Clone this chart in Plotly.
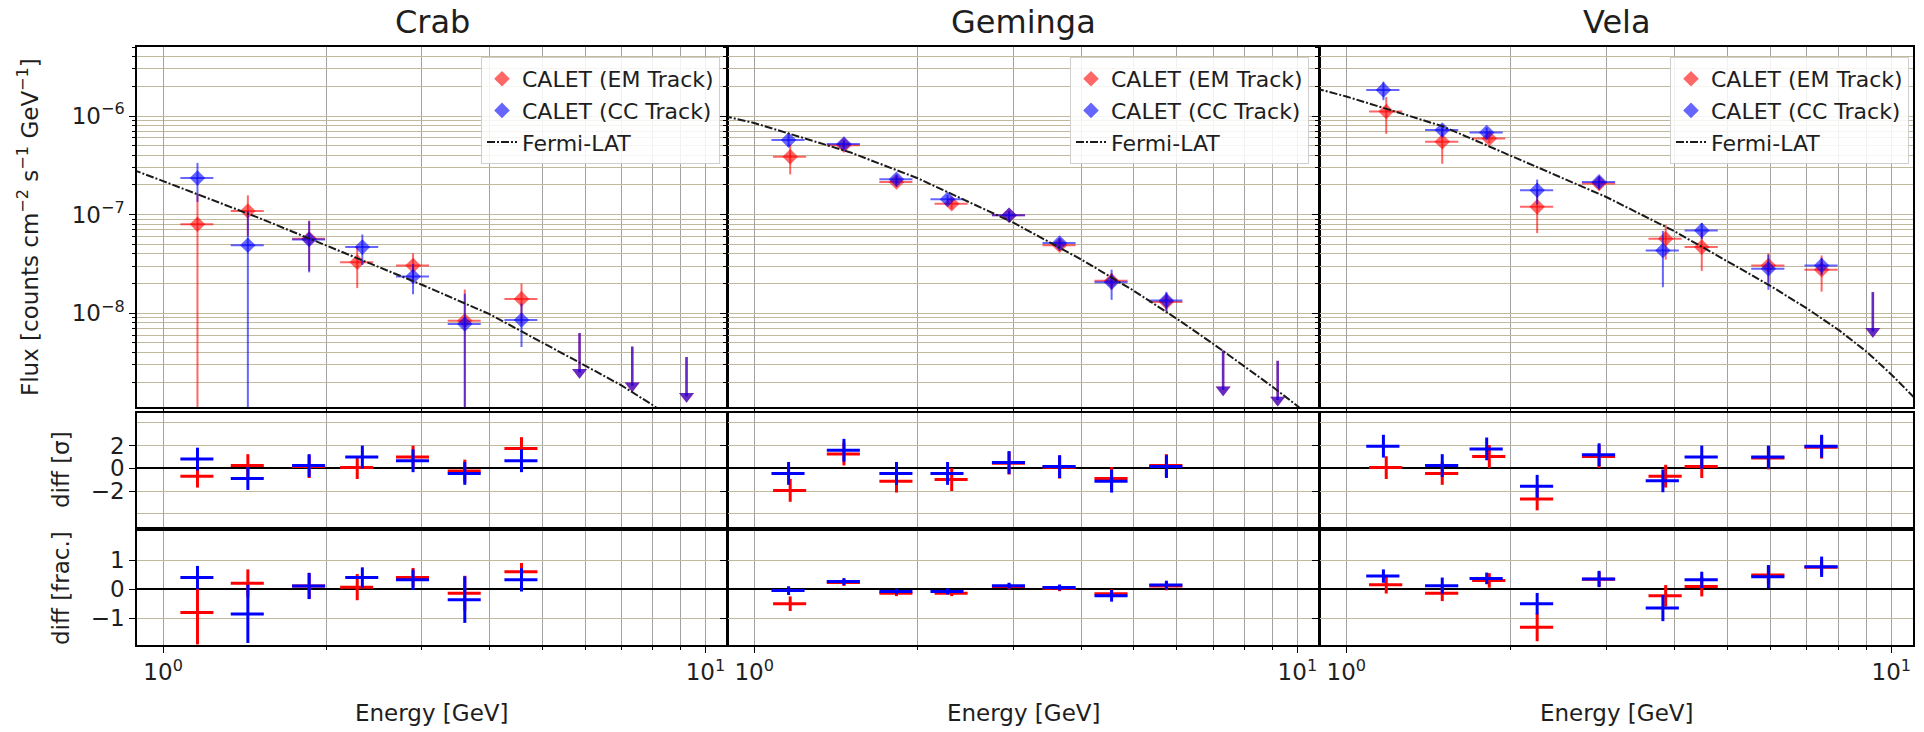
import math
import plotly.graph_objects as go

# ---------------- Crab ----------------
crab_e_em = [1.157, 1.433, 1.859, 2.28, 2.89, 3.60, 4.58]
crab_f_em = [8.0e-8, 1.09e-7, 5.7e-8, 3.3e-8, 3.05e-8, 8.4e-9, 1.40e-8]
crab_err_em = [8.5e-8, 4.8e-8, 3.0e-8, 1.5e-8, 1.0e-8, 9.0e-9, 6.0e-9]
crab_e_cc = [1.157, 1.433, 1.859, 2.33, 2.89, 3.60, 4.58]
crab_f_cc = [2.35e-7, 4.9e-8, 5.6e-8, 4.69e-8, 2.36e-8, 7.8e-9, 8.55e-9]
crab_err_cc = [1.0e-7, 6.0e-8, 3.0e-8, 1.6e-8, 8.0e-9, 8.0e-9, 4.0e-9]
crab_e_ul = [5.86, 7.33, 9.23]
crab_ul = [6.3e-9, 4.6e-9, 3.6e-9]
crab_sig_em = [-0.69, 0.24, 0.15, 0.06, 0.99, -0.24, 1.73]
crab_sig_cc = [0.81, -0.90, 0.24, 0.99, 0.66, -0.45, 0.66]
crab_frac_em = [-0.80, 0.20, 0.11, 0.07, 0.40, -0.14, 0.60]
crab_frac_err_em = [1.1, 0.48, 0.45, 0.45, 0.33, 0.6, 0.3]
crab_frac_cc = [0.40, -0.85, 0.11, 0.40, 0.32, -0.36, 0.32]
crab_frac_err_cc = [0.4, 1.0, 0.45, 0.35, 0.35, 0.8, 0.4]
crab_fermi = [2.85e-7, 2.19e-7, 9.3e-8, 4.9e-8, 1.95e-8, 9.8e-9, 5.1e-9,
              2.95e-9, 1.86e-9, 1.17e-9, 7.4e-10, 4.7e-10, 2.5e-10]

# ---------------- Geminga ----------------
gem_e_em = [1.165, 1.463, 1.828, 2.31, 2.946, 3.65, 4.55, 5.74]
gem_f_em = [3.86e-7, 5.07e-7, 2.15e-7, 1.29e-7, 9.85e-8, 4.9e-8, 2.14e-8, 1.30e-8]
gem_err_em = [1.3e-7, 5.0e-8, 2.5e-8, 1.5e-8, 1.0e-8, 6.0e-9, 4.0e-9, 3.0e-9]
gem_e_cc = [1.157, 1.463, 1.828, 2.27, 2.946, 3.65, 4.55, 5.74]
gem_f_cc = [5.7e-7, 5.2e-7, 2.29e-7, 1.43e-7, 9.85e-8, 5.15e-8, 2.07e-8, 1.35e-8]
gem_err_cc = [8.0e-8, 5.0e-8, 2.5e-8, 1.5e-8, 1.0e-8, 6.0e-9, 7.0e-9, 3.0e-9]
gem_e_ul = [7.30, 9.20]
gem_ul = [4.2e-9, 3.3e-9]
gem_sig_em = [-1.94, 1.25, -1.13, -0.99, 0.45, 0.10, -0.90, 0.24]
gem_sig_cc = [-0.45, 1.58, -0.45, -0.45, 0.51, 0.15, -1.13, 0.15]
gem_frac_em = [-0.50, 0.23, -0.14, -0.14, 0.09, 0.03, -0.16, 0.11]
gem_frac_err_em = [0.25, 0.12, 0.10, 0.10, 0.10, 0.10, 0.15, 0.15]
gem_frac_cc = [-0.05, 0.26, -0.08, -0.08, 0.12, 0.06, -0.23, 0.14]
gem_frac_err_cc = [0.15, 0.12, 0.10, 0.10, 0.10, 0.10, 0.20, 0.15]
gem_fermi = [1.0e-6, 8.5e-7, 4.3e-7, 2.34e-7, 8.3e-8, 3.52e-8, 1.69e-8,
             8.8e-9, 4.9e-9, 2.9e-9, 1.8e-9, 1.15e-9, 6.0e-10]

# ---------------- Vela ----------------
vela_e_em = [1.184, 1.50, 1.83, 2.24, 2.91, 3.855, 4.49, 5.95, 7.45]
vela_f_em = [1.11e-6, 5.48e-7, 5.93e-7, 1.2e-7, 2.07e-7, 5.7e-8, 4.69e-8, 3.05e-8, 2.76e-8]
vela_err_em = [4.5e-7, 2.2e-7, 6.0e-8, 5.5e-8, 3.0e-8, 2.2e-8, 2.0e-8, 1.0e-8, 1.1e-8]
vela_e_cc = [1.17, 1.50, 1.81, 2.24, 2.91, 3.81, 4.49, 5.95, 7.45]
vela_f_cc = [1.84e-6, 7.21e-7, 6.82e-7, 1.77e-7, 2.15e-7, 4.34e-8, 6.93e-8, 2.83e-8, 3.05e-8]
vela_err_cc = [3.9e-7, 1.0e-7, 8.0e-8, 5.0e-8, 3.0e-8, 2.5e-8, 1.3e-8, 1.1e-8, 6.0e-9]
vela_e_ul = [9.25]
vela_ul = [1.64e-8]
vela_sig_em = [0.06, -0.45, 1.04, -2.69, 1.04, -0.69, 0.15, 0.90, 1.85]
vela_sig_cc = [1.94, 0.24, 1.70, -1.58, 1.19, -1.10, 0.99, 0.99, 1.94]
vela_frac_em = [0.15, -0.14, 0.30, -1.31, 0.34, -0.23, 0.09, 0.49, 0.75]
vela_frac_err_em = [0.30, 0.27, 0.25, 0.48, 0.25, 0.37, 0.34, 0.30, 0.25]
vela_frac_cc = [0.45, 0.12, 0.37, -0.50, 0.35, -0.65, 0.32, 0.43, 0.77]
vela_frac_err_cc = [0.23, 0.28, 0.20, 0.37, 0.28, 0.45, 0.28, 0.40, 0.35]
vela_fermi = [1.9e-6, 1.58e-6, 7.9e-7, 4.0e-7, 1.51e-7, 6.8e-8, 3.4e-8,
              1.9e-8, 1.12e-8, 6.8e-9, 4.1e-9, 2.4e-9, 1.1e-9]

# Energies at which the Fermi-LAT model curve is tabulated
fermi_e = [0.88, 1.0, 1.5, 2.0, 3.0, 4.0, 5.0, 6.0, 7.0, 8.0, 9.0, 10.0, 11.5]

# Axis tick labels
flux_ticks = [1e-8, 1e-7, 1e-6]
flux_ticktext = ["10<sup>\u22128</sup>", "10<sup>\u22127</sup>", "10<sup>\u22126</sup>"]
energy_ticks = [1, 10]
energy_ticktext = ["10<sup>0</sup>", "10<sup>1</sup>"]
sig_ticks = [-2, 0, 2]
sig_ticktext = ["\u22122", "0", "2"]
frac_ticks = [-1, 0, 1]
frac_ticktext = ["\u22121", "0", "1"]

sources = [
    dict(name="Crab", e_em=crab_e_em, f_em=crab_f_em, err_em=crab_err_em,
         e_cc=crab_e_cc, f_cc=crab_f_cc, err_cc=crab_err_cc,
         e_ul=crab_e_ul, ul=crab_ul, sig_em=crab_sig_em, sig_cc=crab_sig_cc,
         frac_em=crab_frac_em, frac_err_em=crab_frac_err_em,
         frac_cc=crab_frac_cc, frac_err_cc=crab_frac_err_cc, fermi=crab_fermi),
    dict(name="Geminga", e_em=gem_e_em, f_em=gem_f_em, err_em=gem_err_em,
         e_cc=gem_e_cc, f_cc=gem_f_cc, err_cc=gem_err_cc,
         e_ul=gem_e_ul, ul=gem_ul, sig_em=gem_sig_em, sig_cc=gem_sig_cc,
         frac_em=gem_frac_em, frac_err_em=gem_frac_err_em,
         frac_cc=gem_frac_cc, frac_err_cc=gem_frac_err_cc, fermi=gem_fermi),
    dict(name="Vela", e_em=vela_e_em, f_em=vela_f_em, err_em=vela_err_em,
         e_cc=vela_e_cc, f_cc=vela_f_cc, err_cc=vela_err_cc,
         e_ul=vela_e_ul, ul=vela_ul, sig_em=vela_sig_em, sig_cc=vela_sig_cc,
         frac_em=vela_frac_em, frac_err_em=vela_frac_err_em,
         frac_cc=vela_frac_cc, frac_err_cc=vela_frac_err_cc, fermi=vela_fermi),
]

W, H = 1924, 732
FONT = "DejaVu Sans"
TXT = "#1e1e1e"
EM_A = "rgba(255,0,0,0.6)"
CC_A = "rgba(0,0,255,0.6)"
EM = "#ff0000"
CC = "#0000ff"
VGRID = "#a2a2a2"
HGRID = "#c0b99e"

TICK_SIZE = 23
LEGEND_SIZE = 22
TITLE_SIZE = 32
LABEL_SIZE = 23

# panel frames in pixels
cols_px = [(137, 727), (728, 1319), (1320, 1913)]
rows_px = [(47, 407), (413, 527), (531, 645)]
legend_right_px = [720, 1309, 1909]

X_RANGE = [math.log10(0.895), math.log10(10.96)]
FLUX_RANGE = [-8.95, -5.30]
SIG_RANGE = [-5.15, 4.85]
FRAC_RANGE = [-1.92, 2.0]

minor_e = [2, 3, 4, 5, 6, 7, 8, 9]
minor_flux = [k * 10.0 ** d for d in (-9, -8, -7, -6) for k in range(2, 10)]

fig = go.Figure()
layout = {}


def ax_name(kind, idx):
    return kind if idx == 1 else f"{kind}{idx}"


def ref(kind, idx):
    return kind[0] if idx == 1 else f"{kind[0]}{idx}"


legend_keys = ["legend", "legend2", "legend3"]

for c, src in enumerate(sources):
    x0, x1 = cols_px[c]
    for r in range(3):
        idx = r * 3 + c + 1
        t, b = rows_px[r]
        xa = dict(
            type="log", range=X_RANGE, domain=[x0 / W, x1 / W],
            anchor=ref("yaxis", idx),
            showline=True, mirror=True, linecolor="black", linewidth=1.5,
            ticks="outside", ticklen=6, tickwidth=1, tickcolor="black",
            tickvals=energy_ticks, ticktext=energy_ticktext,
            showticklabels=(r == 2),
            tickfont=dict(family=FONT, size=TICK_SIZE, color=TXT),
            showgrid=True, gridcolor=VGRID, gridwidth=1,
            minor=dict(tickvals=minor_e, ticks="outside", ticklen=3,
                       tickcolor="black", showgrid=True, gridcolor=VGRID,
                       gridwidth=1),
            zeroline=False,
        )
        ya = dict(
            domain=[1 - b / H, 1 - t / H], anchor=ref("xaxis", idx),
            showline=True, mirror=True, linecolor="black", linewidth=1.5,
            ticks="outside", ticklen=6, tickwidth=1, tickcolor="black",
            showticklabels=(c == 0),
            tickfont=dict(family=FONT, size=TICK_SIZE, color=TXT),
            showgrid=True, gridcolor=HGRID, gridwidth=1,
        )
        if r == 0:
            ya.update(type="log", range=FLUX_RANGE, tickvals=flux_ticks,
                      ticktext=flux_ticktext,
                      minor=dict(tickvals=minor_flux, ticks="outside", ticklen=3,
                                 tickcolor="black", showgrid=True,
                                 gridcolor=HGRID, gridwidth=1))
        elif r == 1:
            ya.update(range=SIG_RANGE, tickvals=sig_ticks, ticktext=sig_ticktext,
                      zeroline=True, zerolinecolor="black", zerolinewidth=1.5,
                      minor=dict(tickvals=[-4, 4], showgrid=True,
                                 gridcolor=HGRID, gridwidth=1))
        else:
            ya.update(range=FRAC_RANGE, tickvals=frac_ticks, ticktext=frac_ticktext,
                      zeroline=True, zerolinecolor="black", zerolinewidth=1.5)
        layout[ax_name("xaxis", idx)] = xa
        layout[ax_name("yaxis", idx)] = ya

    lg = legend_keys[c]
    top = dict(xaxis=ref("xaxis", c + 1), yaxis=ref("yaxis", c + 1))
    mid = dict(xaxis=ref("xaxis", c + 4), yaxis=ref("yaxis", c + 4))
    bot = dict(xaxis=ref("xaxis", c + 7), yaxis=ref("yaxis", c + 7))

    # flux points with error bars
    for label, e, f, err, col, rank in [
        ("CALET (EM Track)", src["e_em"], src["f_em"], src["err_em"], EM_A, 1),
        ("CALET (CC Track)", src["e_cc"], src["f_cc"], src["err_cc"], CC_A, 2),
    ]:
        minus = [min(ev, 0.999 * fv) for ev, fv in zip(err, f)]
        fig.add_trace(go.Scatter(
            x=e, y=f, mode="markers", name=label, legend=lg, legendrank=rank,
            marker=dict(symbol="diamond", size=12, color=col, line=dict(width=0)),
            error_y=dict(type="data", array=err, arrayminus=minus, color=col,
                         thickness=2, width=0),
            error_x=dict(type="percent", value=7, color=col, thickness=2, width=0),
            **top))

    # upper limits: arrow from the limit down to 40 % of it
    for col in (EM_A, CC_A):
        tips = [0.4 * u for u in src["ul"]]
        shafts = [0.6 * u for u in src["ul"]]
        fig.add_trace(go.Scatter(
            x=src["e_ul"], y=tips, mode="markers", showlegend=False,
            marker=dict(symbol="triangle-down", size=13, color=col, line=dict(width=0)),
            error_y=dict(type="data", array=shafts, arrayminus=[0] * len(tips),
                         color=col, thickness=2.5, width=0),
            **top))

    # Fermi-LAT model
    fig.add_trace(go.Scatter(
        x=fermi_e, y=src["fermi"], mode="lines", name="Fermi-LAT", legend=lg,
        legendrank=3,
        line=dict(color="#1a1a1a", width=2, dash="8px,2px,2px,2px"),
        **top))

    # residual panels
    for e, s, fr, frerr, col in [
        (src["e_em"], src["sig_em"], src["frac_em"], src["frac_err_em"], EM),
        (src["e_cc"], src["sig_cc"], src["frac_cc"], src["frac_err_cc"], CC),
    ]:
        fig.add_trace(go.Scatter(
            x=e, y=s, mode="markers", showlegend=False,
            marker=dict(size=2, color="rgba(0,0,0,0)"),
            error_y=dict(type="constant", value=1, color=col, thickness=3, width=0),
            error_x=dict(type="percent", value=7, color=col, thickness=3, width=0),
            **mid))
        fig.add_trace(go.Scatter(
            x=e, y=fr, mode="markers", showlegend=False,
            marker=dict(size=2, color="rgba(0,0,0,0)"),
            error_y=dict(type="data", array=frerr, color=col, thickness=3, width=0),
            error_x=dict(type="percent", value=7, color=col, thickness=3, width=0),
            **bot))

    layout[lg] = dict(
        x=legend_right_px[c] / W, xanchor="right", y=1 - 57 / H, yanchor="top",
        bgcolor="rgba(255,255,255,0.85)", bordercolor="#cfcfcf", borderwidth=1,
        font=dict(family=FONT, size=LEGEND_SIZE, color=TXT), tracegroupgap=0,
    )

annotations = []
for c, src in enumerate(sources):
    x0, x1 = cols_px[c]
    annotations.append(dict(
        text=src["name"], x=(x0 + x1) / 2 / W, y=1 - 22 / H, xref="paper",
        yref="paper", showarrow=False, xanchor="center", yanchor="middle",
        font=dict(family=FONT, size=TITLE_SIZE, color=TXT)))
    annotations.append(dict(
        text="Energy [GeV]", x=(x0 + x1) / 2 / W, y=1 - 713 / H, xref="paper",
        yref="paper", showarrow=False, xanchor="center", yanchor="middle",
        font=dict(family=FONT, size=LABEL_SIZE, color=TXT)))

annotations += [
    dict(text="Flux [counts cm<sup>\u22122</sup> s<sup>\u22121</sup> GeV<sup>\u22121</sup>]",
         x=28 / W, y=1 - 227 / H, textangle=-90),
    dict(text="diff [\u03c3]", x=61 / W, y=1 - 470 / H, textangle=-90),
    dict(text="diff [frac.]", x=61 / W, y=1 - 588 / H, textangle=-90),
]
for a in annotations[-3:]:
    a.update(xref="paper", yref="paper", showarrow=False, xanchor="center",
             yanchor="middle", font=dict(family=FONT, size=LABEL_SIZE, color=TXT))

fig.update_layout(
    width=W, height=H, autosize=False,
    margin=dict(l=0, r=0, t=0, b=0),
    paper_bgcolor="white", plot_bgcolor="white",
    annotations=annotations,
    **layout,
)

fig.write_html("out.html")
